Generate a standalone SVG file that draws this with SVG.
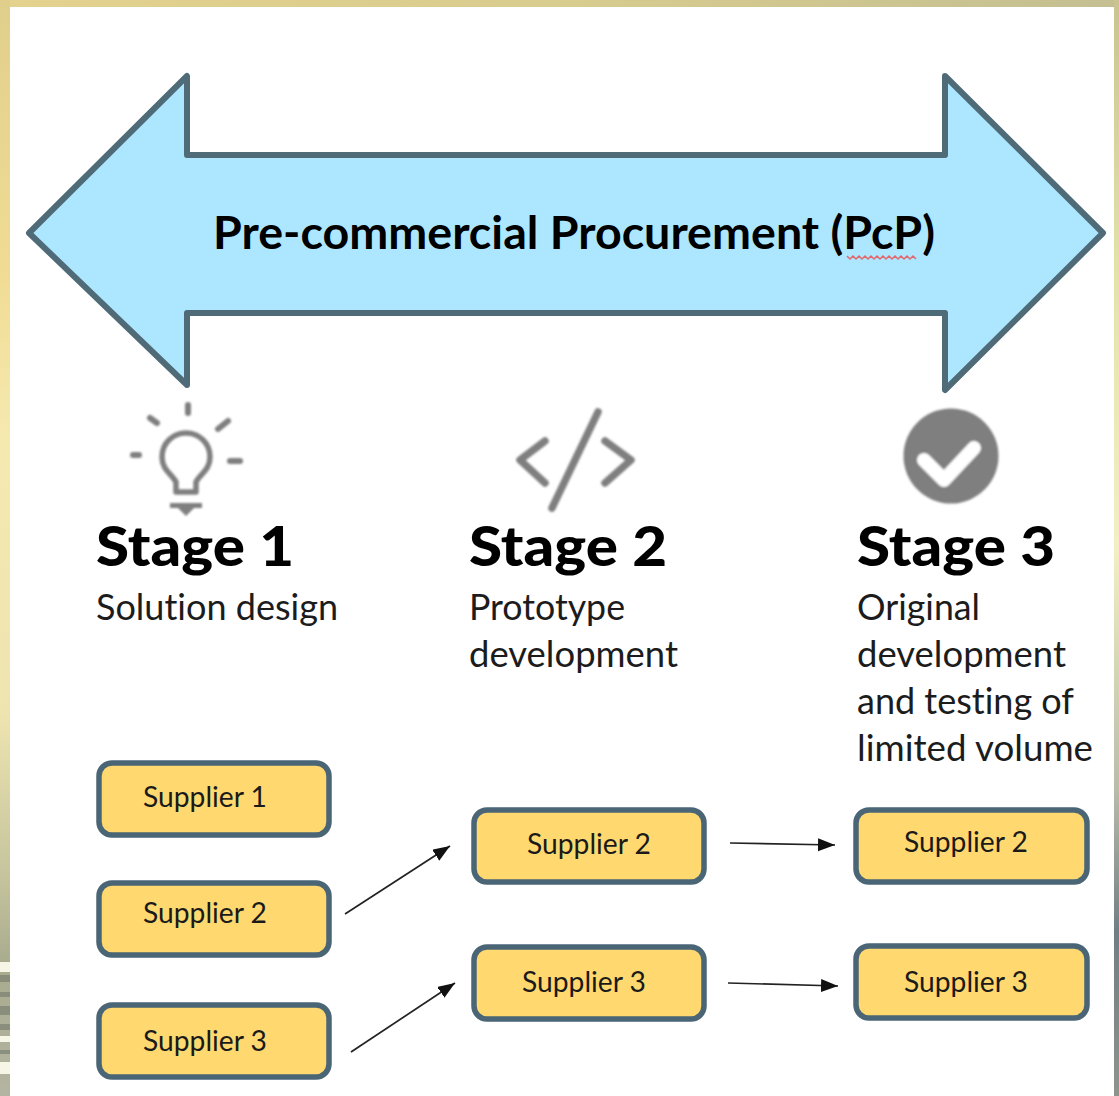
<svg xmlns="http://www.w3.org/2000/svg" width="1119" height="1096" viewBox="0 0 1119 1096">
<defs>
<style>
text{font-variant-ligatures:none;font-family:Lato,"Open Sans",sans-serif}
.box{fill:#ffd96f;stroke:#4a6676;stroke-width:5.5}
.sup{font-size:28px;fill:#1a1a1a}
.st{font-size:56px;font-weight:900;fill:#000}
.sub{font-size:36px;fill:#1c1c1c}
.conn{stroke:#222;stroke-width:1.7;fill:none;marker-end:url(#ah)}
.ic{stroke:#7f7f7f;fill:none;stroke-linecap:round;stroke-linejoin:round}
</style>
<filter id="soft" x="-10%" y="-10%" width="120%" height="120%"><feGaussianBlur stdDeviation="1"/></filter>
<filter id="soft2" x="-5%" y="-5%" width="110%" height="110%"><feGaussianBlur stdDeviation="0.5"/></filter>
<marker id="ah" markerUnits="userSpaceOnUse" markerWidth="20" markerHeight="16" refX="17" refY="6.5" orient="auto"><path d="M0 0L17 6.5L0 13Z" fill="#111"/></marker>
<linearGradient id="lf" x1="0" y1="0" x2="0" y2="1">
<stop offset="0" stop-color="#e0cf8c"/><stop offset=".25" stop-color="#f0dc94"/><stop offset=".4" stop-color="#f6e9b0"/><stop offset=".65" stop-color="#eee4b0"/><stop offset=".8" stop-color="#c5c49d"/><stop offset=".88" stop-color="#a9ab8e"/><stop offset="1" stop-color="#b4b4a2"/>
</linearGradient>
<linearGradient id="rt" x1="0" y1="0" x2="0" y2="1">
<stop offset="0" stop-color="#c9c48f"/><stop offset=".25" stop-color="#e3e3a8"/><stop offset=".5" stop-color="#f2efc4"/><stop offset=".72" stop-color="#b8bda8"/><stop offset=".85" stop-color="#6f7f84"/><stop offset="1" stop-color="#8d948c"/>
</linearGradient>
<linearGradient id="tp" x1="0" y1="0" x2="1" y2="0">
<stop offset="0" stop-color="#e4d28e"/><stop offset=".5" stop-color="#d8cc8e"/><stop offset="1" stop-color="#c4bf92"/>
</linearGradient>
</defs>
<rect x="0" y="0" width="1119" height="1096" fill="#fff"/>
<rect x="0" y="0" width="1119" height="7" fill="url(#tp)"/>
<rect x="0" y="0" width="10" height="1096" fill="url(#lf)"/>
<rect x="1114" y="0" width="5" height="1096" fill="url(#rt)"/>
<g fill="#6e7468" opacity=".55"><rect x="0" y="975" width="10" height="7"/><rect x="0" y="992" width="10" height="5"/><rect x="0" y="1006" width="10" height="9"/><rect x="0" y="1024" width="10" height="6"/><rect x="0" y="1050" width="10" height="4"/></g>
<g fill="#f7f5e6"><rect x="0" y="962" width="10" height="10"/><rect x="0" y="1036" width="10" height="6"/><rect x="0" y="1062" width="10" height="12"/></g>

<g id="pcp-arrow">
<path d="M29 233L187 76V155H945V76L1103 233L945 390V313H187V385Z" fill="#ade7ff" stroke="#4f6b78" stroke-width="6" stroke-linejoin="round"/>
<text x="213" y="249" font-size="46px" font-weight="700" fill="#000" textLength="722" lengthAdjust="spacingAndGlyphs">Pre-commercial Procurement (PcP)</text>
<path d="M847 256l3 3 3-3 3 3 3-3 3 3 3-3 3 3 3-3 3 3 3-3 3 3 3-3 3 3 3-3 3 3 3-3 3 3 3-3 3 3 3-3 3 3 3-3 3 3" fill="none" stroke="#e2686e" stroke-width="1.5"/>
</g>

<g id="icon-bulb" filter="url(#soft)">
<g class="ic" stroke-width="5.5">
<path d="M188 405V413" stroke-width="6"/><path d="M150 418L157 423" stroke-width="6"/><path d="M218 429L228 421" stroke-width="6"/><path d="M133 455H139" stroke-width="6"/><path d="M230 461H240" stroke-width="6"/>
<path d="M176 492V482C172 474 162 470 162 457C162 443 173 433 186 433C199 433 210 443 210 457C210 470 200 474 196 482V492H176Z"/>
</g>
<path d="M170 503H202V508H194L186 516L178 508H170Z" fill="#7f7f7f"/>
</g>
<g id="icon-code" class="ic" stroke-width="7.5" filter="url(#soft)">
<path d="M545 441L520 460L545 483"/><path d="M605 441L631 460L605 483"/><path d="M598 412L552 508"/>
</g>
<g id="icon-check" filter="url(#soft)">
<circle cx="951" cy="456" r="47.5" fill="#7f7f7f"/>
<path d="M924 460L944 480L974 448" fill="none" stroke="#fff" stroke-width="14" stroke-linecap="round" stroke-linejoin="round"/>
</g>

<g id="stage-1"><text class="st" x="96" y="566" textLength="198" lengthAdjust="spacingAndGlyphs">Stage 1</text><text class="sub" x="96" y="620" textLength="242" lengthAdjust="spacingAndGlyphs">Solution design</text></g>
<g id="stage-2"><text class="st" x="469" y="566" textLength="198" lengthAdjust="spacingAndGlyphs">Stage 2</text><text class="sub" x="469" y="620" textLength="156" lengthAdjust="spacingAndGlyphs">Prototype</text><text class="sub" x="469" y="667" textLength="209" lengthAdjust="spacingAndGlyphs">development</text></g>
<g id="stage-3"><text class="st" x="857" y="566" textLength="198" lengthAdjust="spacingAndGlyphs">Stage 3</text><text class="sub" x="857" y="620" textLength="123" lengthAdjust="spacingAndGlyphs">Original</text><text class="sub" x="857" y="667" textLength="209" lengthAdjust="spacingAndGlyphs">development</text><text class="sub" x="857" y="714" textLength="217" lengthAdjust="spacingAndGlyphs">and testing of</text><text class="sub" x="857" y="761" textLength="236" lengthAdjust="spacingAndGlyphs">limited volume</text></g>

<g id="s1-supplier-1"><rect class="box" x="99" y="763" width="230" height="72" rx="13"/><text class="sup" x="143" y="807" textLength="124" lengthAdjust="spacingAndGlyphs">Supplier 1</text></g>
<g id="s1-supplier-2"><rect class="box" x="99" y="883" width="230" height="72" rx="13"/><text class="sup" x="143" y="923" textLength="124" lengthAdjust="spacingAndGlyphs">Supplier 2</text></g>
<g id="s1-supplier-3"><rect class="box" x="99" y="1005" width="230" height="72" rx="13"/><text class="sup" x="143" y="1051" textLength="124" lengthAdjust="spacingAndGlyphs">Supplier 3</text></g>
<g id="s2-supplier-2"><rect class="box" x="474" y="810" width="230" height="72" rx="13"/><text class="sup" x="527" y="854" textLength="124" lengthAdjust="spacingAndGlyphs">Supplier 2</text></g>
<g id="s2-supplier-3"><rect class="box" x="474" y="947" width="230" height="72" rx="13"/><text class="sup" x="522" y="992" textLength="124" lengthAdjust="spacingAndGlyphs">Supplier 3</text></g>
<g id="s3-supplier-2"><rect class="box" x="856" y="810" width="231" height="72" rx="13"/><text class="sup" x="904" y="852" textLength="124" lengthAdjust="spacingAndGlyphs">Supplier 2</text></g>
<g id="s3-supplier-3"><rect class="box" x="856" y="946" width="231" height="72" rx="13"/><text class="sup" x="904" y="992" textLength="124" lengthAdjust="spacingAndGlyphs">Supplier 3</text></g>

<g id="connectors">
<path class="conn" d="M345 914L450 846"/>
<path class="conn" d="M351 1052L455 983"/>
<path class="conn" d="M730 843L835 845"/>
<path class="conn" d="M728 983L838 986"/>
</g>
</svg>
